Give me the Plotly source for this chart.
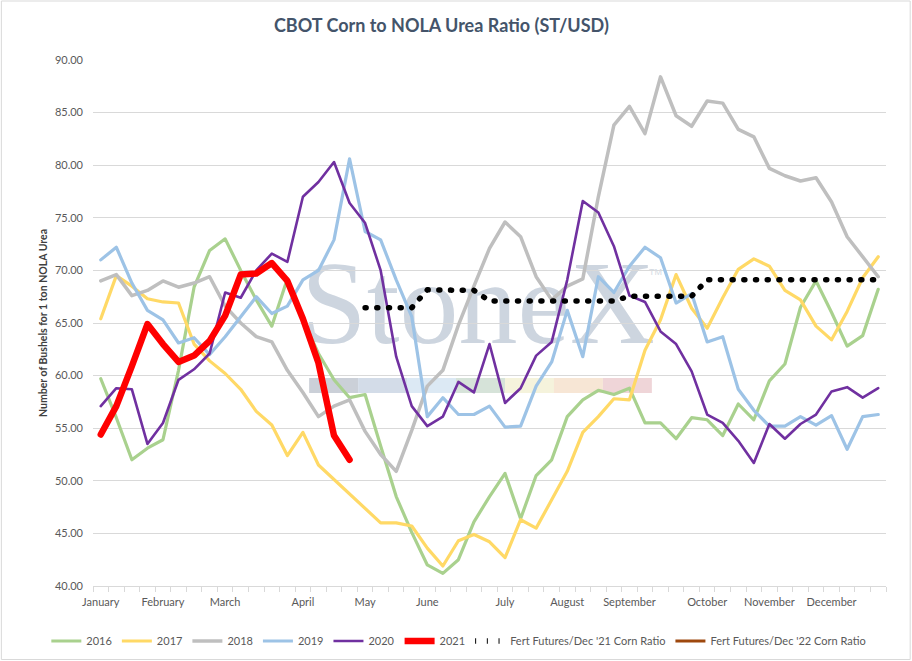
import plotly.graph_objects as go

# weekly points, 51 per year
months = ["January", "February", "March", "April", "May", "June", "July",
          "August", "September", "October", "November", "December"]
month_pos = [0, 4, 8, 13, 17, 21, 26, 30, 34, 39, 43, 47]

y2016 = [59.7, 56.0, 52.0, 53.1, 53.9, 60.5, 68.4, 71.9, 73.0, 70.0, 67.2, 64.7, 69.2,
         65.3, 62.1, 59.6, 57.9, 58.2, 53.3, 48.5, 45.1, 42.0, 41.2, 42.5, 46.1, 48.5,
         50.7, 46.4, 50.5, 52.0, 56.1, 57.7, 58.6, 58.2, 58.8, 55.5, 55.5, 54.0, 56.0,
         55.8, 54.3, 57.3, 55.8, 59.5, 61.1, 66.5, 69.0, 66.0, 62.8, 63.8, 68.2]
y2017 = [65.4, 69.5, 68.5, 67.3, 67.0, 66.9, 63.0, 61.4, 60.2, 58.7, 56.6, 55.3, 52.4,
         54.6, 51.5, 50.1, 48.7, 47.4, 46.0, 46.0, 45.7, 43.6, 41.9, 44.3, 44.9, 44.2,
         42.7, 46.3, 45.5, 48.2, 50.9, 54.6, 56.1, 57.8, 57.7, 62.4, 65.3, 69.6, 66.4,
         64.5, 67.4, 70.1, 71.1, 70.4, 68.1, 67.2, 64.7, 63.4, 66.1, 69.3, 71.3]
y2018 = [69.0, 69.6, 67.6, 68.1, 69.0, 68.4, 68.8, 69.4, 66.6, 65.0, 63.7, 63.2, 60.5,
         58.4, 56.1, 57.1, 57.7, 54.7, 52.5, 50.9, 54.8, 59.0, 60.5, 64.8, 68.5, 72.1,
         74.6, 73.2, 69.4, 67.2, 68.5, 69.2, 77.0, 83.8, 85.6, 83.0, 88.4, 84.7, 83.7,
         86.1, 85.9, 83.4, 82.7, 79.7, 79.0, 78.5, 78.8, 76.5, 73.2, 71.3, 69.4]
y2019 = [71.0, 72.2, 68.8, 66.2, 65.3, 63.1, 63.6, 62.0, 63.7, 65.6, 67.5, 65.9, 66.6,
         69.1, 70.0, 72.9, 80.6, 73.7, 72.9, 69.1, 65.6, 56.1, 57.9, 56.3, 56.3, 57.1,
         55.1, 55.2, 59.0, 61.3, 66.2, 61.8, 69.4, 67.9, 70.4, 72.2, 71.2, 66.9, 67.8,
         63.2, 63.7, 58.7, 56.7, 55.2, 55.2, 56.1, 55.3, 56.2, 53.0, 56.1, 56.3]
y2020 = [57.1, 58.8, 58.7, 53.5, 55.5, 59.6, 60.6, 62.1, 67.9, 67.4, 70.0, 71.6, 70.8,
         77.0, 78.4, 80.3, 76.4, 74.5, 70.0, 61.8, 57.1, 55.2, 56.1, 59.4, 58.4, 63.0,
         57.4, 58.8, 61.9, 63.2, 69.1, 76.6, 75.5, 72.3, 67.6, 67.0, 64.2, 63.0, 60.4,
         56.3, 55.5, 53.8, 51.7, 55.4, 54.0, 55.4, 56.3, 58.5, 58.9, 57.9, 58.8]
y2021 = [54.4, 57.1, 60.9, 64.9, 63.0, 61.3, 61.9, 63.3, 65.7, 69.6, 69.7, 70.7, 69.0,
         65.4, 61.2, 54.3, 52.0]
fert_dec21 = [None, None, None, None, None, None, None, None, None, None, None, None, None,
              None, None, None, None, 66.45, 66.45, 66.45, 66.45, 68.15, 68.15, 68.15, 68.1,
              67.1, 67.1, 67.1, 67.1, 67.1, 67.1, 67.1, 67.1, 67.1, 67.55, 67.55, 67.55,
              67.55, 67.55, 69.1, 69.1, 69.1, 69.1, 69.1, 69.1, 69.1, 69.1, 69.1, 69.1,
              69.1, 69.1, 69.1]
fert_dec22 = [None]  # no values plotted yet

weeks = list(range(51))

fig = go.Figure()

series = [
    ("2016", y2016, "#A9D18E", 3.2),
    ("2017", y2017, "#FFD966", 3.2),
    ("2018", y2018, "#BFBFBF", 3.5),
    ("2019", y2019, "#9DC3E6", 3.2),
    ("2020", y2020, "#7030A0", 2.6),
    ("2021", y2021, "#FF0000", 6.5),
]
for name, vals, col, w in series:
    fig.add_trace(go.Scatter(x=weeks[:len(vals)], y=vals, mode="lines", name=name,
                             line=dict(color=col, width=w)))

fig.add_trace(go.Scatter(x=weeks, y=fert_dec21, mode="lines",
                         name="Fert Futures/Dec '21 Corn Ratio",
                         line=dict(color="black", width=5.5, dash="1px,10.7px")))
fig.add_trace(go.Scatter(x=weeks[:len(fert_dec22)], y=fert_dec22, mode="lines",
                         name="Fert Futures/Dec '22 Corn Ratio",
                         line=dict(color="#9E480E", width=3.2)))

# watermark
L, R, T, B = 92.7, 886.3, 60, 586
def px(x):
    return (x - L) / (R - L)
def py(y):
    return (B - y) / (B - T)

fig.add_shape(type="rect", xref="paper", yref="paper", layer="below",
              x0=px(300), x1=px(656), y0=py(347), y1=py(233),
              line=dict(width=0), fillcolor="rgba(0,0,0,0)",
              label=dict(text="StoneX", textposition="middle center",
                         font=dict(family="Liberation Serif", size=118, color="#CDD5DF")))
bar_colors = ["#CBD0D8", "#D3DCE8", "#DCE9F4", "#D6E3D9", "#F5F3DC", "#F7E6D5", "#EFD5D8"]
for k, c in enumerate(bar_colors):
    fig.add_shape(type="rect", xref="paper", yref="paper", layer="below",
                  x0=px(309 + 49 * k), x1=px(358 + 49 * k), y0=py(393), y1=py(378),
                  line=dict(width=0), fillcolor=c)
fig.add_annotation(text="TM", xref="paper", yref="paper", x=px(664), y=py(272),
                   showarrow=False, font=dict(family="Liberation Sans", size=9, color="#D5DBE3"))

# chart border
fig.add_shape(type="rect", xref="paper", yref="paper",
              x0=px(1), x1=px(910.5), y0=py(659.5), y1=py(1),
              line=dict(color="#D9D9D9", width=1), fillcolor="rgba(0,0,0,0)")

fig.update_layout(
    width=912, height=661,
    margin=dict(l=L, r=912 - R, t=T, b=661 - B, autoexpand=False),
    paper_bgcolor="white", plot_bgcolor="white",
    font=dict(family="Lato", size=11, color="#595959"),
    title=dict(text="<b>CBOT Corn to NOLA Urea Ratio (ST/USD)</b>", x=0.484, xref="container",
               xanchor="center", y=1 - 26 / 661, yanchor="middle",
               font=dict(family="Lato", size=18, color="#44546A")),
    legend=dict(orientation="h", x=px(46), xanchor="left", y=py(641), yanchor="middle",
                font=dict(size=11, color="#595959"), itemwidth=30, tracegroupgap=0),
    showlegend=True,
)
fig.update_xaxes(range=[-0.5, 50.5], tickmode="array", tickvals=month_pos, ticktext=months,
                 ticks="", showgrid=False, zeroline=False, showline=True, automargin=False,
                 linecolor="#D9D9D9", linewidth=1, ticklabelstandoff=6,
                 tickfont=dict(size=11, color="#595959"),
                 minor=dict(ticks="outside", tick0=-0.5, dtick=1, ticklen=5,
                            tickcolor="#D9D9D9", showgrid=False))
fig.update_yaxes(range=[40, 90], dtick=5, tickformat=".2f", showgrid=True, automargin=False,
                 gridcolor="#D9D9D9", gridwidth=1, zeroline=False, showline=False,
                 ticks="", ticklabelstandoff=9, tickfont=dict(size=11, color="#595959"),
                 title=dict(text="<b>Number of Bushels for 1 ton NOLA Urea</b>", standoff=5,
                            font=dict(size=10.5, color="#404040")))

fig.write_html("out.html", config={"displayModeBar": False}, post_script=(
    "document.body.style.margin='0';"
    "var s=document.createElement('style');"
    "s.textContent='.scatterlayer path.js-line{stroke-linecap:round;stroke-linejoin:round}';"
    "document.head.appendChild(s);"))
